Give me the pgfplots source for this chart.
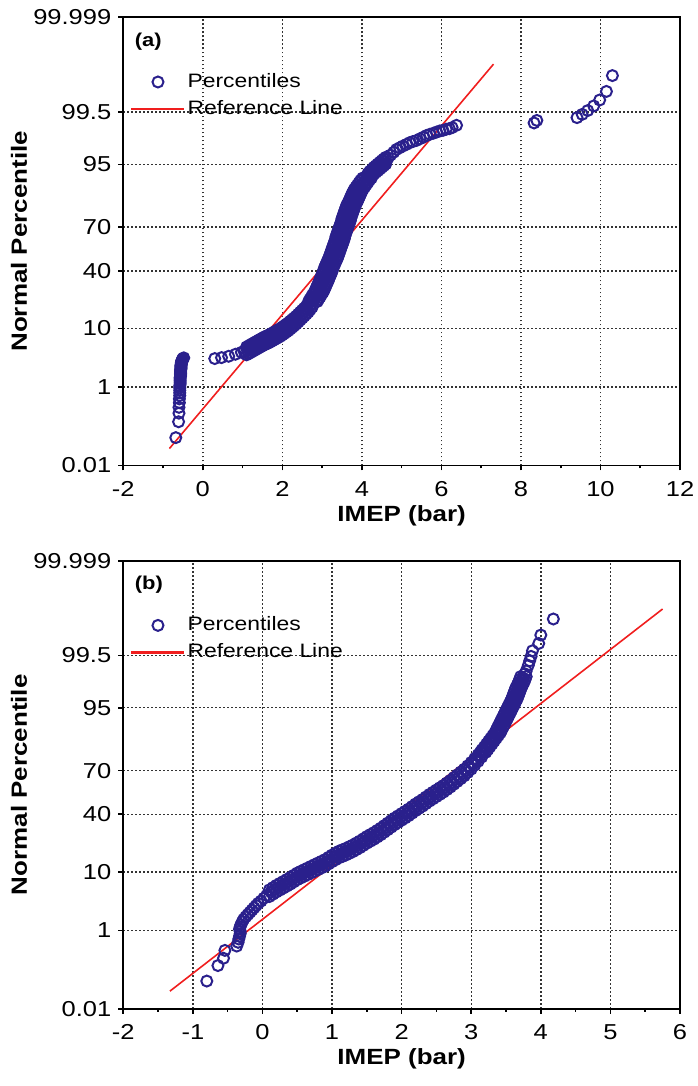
\documentclass[border=0pt]{standalone}
\usepackage{fontspec}
\setmainfont{Liberation Sans}[FakeStretch=1.18]
\usepackage{pgfplots}
\pgfplotsset{compat=1.18}
\definecolor{markblue}{RGB}{42,32,140}
\definecolor{refred}{RGB}{240,30,30}
\pgfplotsset{
  qq/.style={
    scale only axis, width=278.35pt, height=224pt,
    ymin=-3.719, ymax=4.2649,
    ytick={-3.719,-2.3263,-1.2816,-0.2533,0.5244,1.6449,2.5758,4.2649},
    yticklabels={0.01,1,10,40,70,95,99.5,99.999},
    tick align=outside, tick pos=left,
    major tick length=2.5pt, minor tick length=1.5pt,
    minor x tick num=1,
    grid=major,
    major grid style={dash pattern=on 0.9pt off 1.1pt, line width=0.7pt, black!80},
    axis line style={line width=0.8pt},
    every tick/.style={black, line width=0.8pt},
    tick label style={font=\fontsize{10.8}{12}\selectfont},
    xticklabel style={yshift=-2pt},
    /pgf/number format/assume math mode=true,
    xlabel={IMEP (bar)}, ylabel={Normal Percentile},
    every axis x label/.style={at={(axis description cs:0.5,-0.0737)}, anchor=north, font=\fontsize{11}{13}\selectfont\bfseries},
    every axis y label/.style={at={(axis description cs:-0.1874,0.5)}, rotate=90, anchor=center, font=\fontsize{11}{13}\selectfont\bfseries},
    legend style={draw=none, fill=none, at={(axis description cs:0.012,0.88)}, anchor=north west,
      font=\fontsize{9.7}{11}\selectfont, inner sep=0pt, row sep=3pt,
      nodes={inner sep=1pt}},
    legend cell align=left,
  },
  pts/.style={only marks, mark=o, mark size=2.75pt, draw=markblue, line width=1pt,
    legend image code/.code={\path[draw=none, fill=none] (-13.25pt,-3pt) rectangle (13.25pt,3pt); \draw[##1] plot coordinates {(0pt,0pt)};}},
  refl/.style={refred, line width=0.8pt, no marks,
    legend image code/.code={\path[draw=none, fill=none] (-13.25pt,-3pt) rectangle (13.25pt,3pt); \draw[##1, line width=1.1pt] (-13.25pt,0pt) -- (13.25pt,0pt);}},
}
\begin{document}
\begin{tikzpicture}
\path[use as bounding box] (-61.65pt,8.65pt) rectangle (286.85pt,-534.35pt);
\begin{axis}[qq, at={(0pt,0pt)}, anchor=north west,
  xmin=-2, xmax=12, xtick={-2,0,2,4,6,8,10,12}]
\addplot[pts] coordinates {
(-0.68,-3.226) (-0.61,-2.943) (-0.60,-2.790) (-0.60,-2.686) (-0.59,-2.603) (-0.59,-2.536) (-0.58,-2.477) (-0.58,-2.428) (-0.58,-2.383) (-0.58,-2.341) (-0.58,-2.305) (-0.57,-2.269) (-0.57,-2.237) (-0.57,-2.207) (-0.57,-2.179) (-0.57,-2.153) (-0.56,-2.128) (-0.56,-2.105) (-0.56,-2.083) (-0.56,-2.062) (-0.56,-2.041) (-0.56,-2.021) (-0.55,-2.003) (-0.55,-1.985) (-0.55,-1.967) (-0.55,-1.950) (-0.55,-1.933) (-0.54,-1.917) (-0.54,-1.902) (-0.54,-1.886) (-0.53,-1.871) (-0.53,-1.857) (-0.52,-1.843) (-0.51,-1.830) (-0.50,-1.817) (-0.48,-1.804)
(0.30,-1.817) (0.47,-1.800) (0.65,-1.776) (0.82,-1.740) (0.97,-1.705) (1.04,-1.690)
(1.10,-1.61) (1.10,-1.75) (1.15,-1.59) (1.15,-1.73) (1.20,-1.57) (1.20,-1.71) (1.25,-1.55) (1.25,-1.69) (1.30,-1.53) (1.30,-1.67) (1.35,-1.51) (1.35,-1.65) (1.40,-1.49) (1.40,-1.63) (1.45,-1.47) (1.45,-1.61) (1.50,-1.45) (1.50,-1.59) (1.55,-1.43) (1.55,-1.57) (1.60,-1.415) (1.60,-1.555) (1.65,-1.40) (1.65,-1.54) (1.70,-1.38) (1.70,-1.52) (1.75,-1.36) (1.75,-1.50) (1.80,-1.34) (1.80,-1.48) (1.85,-1.32) (1.85,-1.46) (1.90,-1.30) (1.90,-1.44) (1.95,-1.28) (1.95,-1.42) (2.00,-1.255) (2.00,-1.395) (2.05,-1.23) (2.05,-1.37) (2.10,-1.205) (2.10,-1.345) (2.15,-1.18) (2.15,-1.32) (2.20,-1.15) (2.20,-1.29) (2.25,-1.12) (2.25,-1.26) (2.30,-1.09) (2.30,-1.23) (2.35,-1.06) (2.35,-1.20) (2.40,-1.025) (2.40,-1.165) (2.45,-0.99) (2.45,-1.13) (2.50,-0.955) (2.50,-1.095) (2.55,-0.92) (2.55,-1.06) (2.60,-0.885) (2.60,-1.025) (2.65,-0.85) (2.65,-0.99) (2.70,-0.805) (2.70,-0.945) (2.75,-0.76) (2.75,-0.90)
(1.125,-1.67) (1.175,-1.65) (1.225,-1.63) (1.275,-1.61) (1.325,-1.59) (1.375,-1.57) (1.425,-1.55) (1.475,-1.53) (1.525,-1.51) (1.575,-1.4925) (1.625,-1.4775) (1.675,-1.46) (1.725,-1.44) (1.775,-1.42) (1.825,-1.40) (1.875,-1.38) (1.925,-1.36) (1.975,-1.3375) (2.025,-1.3125) (2.075,-1.2875) (2.125,-1.2625) (2.175,-1.235) (2.225,-1.205) (2.275,-1.175) (2.325,-1.145) (2.375,-1.1125) (2.425,-1.0775) (2.475,-1.0425) (2.525,-1.0075) (2.575,-0.9725) (2.625,-0.9375) (2.675,-0.8975) (2.725,-0.8525)
(2.66,-0.80) (2.88,-0.80) (2.69,-0.76) (2.91,-0.76) (2.73,-0.72) (2.95,-0.72) (2.76,-0.68) (2.98,-0.68) (2.80,-0.64) (3.02,-0.64) (2.83,-0.60) (3.05,-0.60) (2.85,-0.56) (3.07,-0.56) (2.88,-0.52) (3.10,-0.52) (2.90,-0.48) (3.12,-0.48) (2.93,-0.44) (3.15,-0.44) (2.95,-0.40) (3.17,-0.40) (2.97,-0.36) (3.19,-0.36) (3.00,-0.32) (3.22,-0.32) (3.02,-0.28) (3.24,-0.28) (3.04,-0.24) (3.26,-0.24) (3.06,-0.20) (3.28,-0.20) (3.08,-0.16) (3.30,-0.16) (3.11,-0.12) (3.33,-0.12) (3.13,-0.08) (3.35,-0.08) (3.16,-0.04) (3.38,-0.04) (3.18,0.00) (3.40,0.00) (3.20,0.04) (3.42,0.04) (3.22,0.08) (3.44,0.08) (3.24,0.12) (3.46,0.12) (3.26,0.16) (3.48,0.16) (3.28,0.20) (3.50,0.20) (3.30,0.24) (3.52,0.24) (3.32,0.28) (3.54,0.28) (3.34,0.32) (3.56,0.32) (3.35,0.36) (3.57,0.36) (3.37,0.40) (3.59,0.40) (3.39,0.44) (3.61,0.44) (3.41,0.48) (3.63,0.48) (3.43,0.52) (3.65,0.52) (3.45,0.56) (3.67,0.56) (3.47,0.60) (3.69,0.60) (3.49,0.64) (3.71,0.64) (3.50,0.68) (3.72,0.68) (3.52,0.72) (3.74,0.72) (3.54,0.76) (3.76,0.76) (3.56,0.80) (3.78,0.80) (3.58,0.84) (3.80,0.84) (3.60,0.88) (3.82,0.88) (3.62,0.92) (3.84,0.92) (3.65,0.96) (3.87,0.96) (3.68,1.00) (3.90,1.00) (3.70,1.04) (3.92,1.04) (3.73,1.08) (3.95,1.08) (3.75,1.12) (3.97,1.12) (3.78,1.16) (4.00,1.16) (3.81,1.20) (4.03,1.20) (3.85,1.24) (4.07,1.24) (3.89,1.28) (4.11,1.28) (3.93,1.32) (4.15,1.32) (3.97,1.36) (4.19,1.36) (4.02,1.40) (4.24,1.40)
(2.785,-0.78) (2.82,-0.74) (2.855,-0.70) (2.89,-0.66) (2.925,-0.62) (2.95,-0.58) (2.975,-0.54) (3.00,-0.50) (3.025,-0.46) (3.05,-0.42) (3.07,-0.38) (3.095,-0.34) (3.12,-0.30) (3.14,-0.26) (3.16,-0.22) (3.18,-0.18) (3.205,-0.14) (3.23,-0.10) (3.255,-0.06) (3.28,-0.02) (3.30,0.02) (3.32,0.06) (3.34,0.10) (3.36,0.14) (3.38,0.18) (3.40,0.22) (3.42,0.26) (3.44,0.30) (3.455,0.34) (3.47,0.38) (3.49,0.42) (3.51,0.46) (3.53,0.50) (3.55,0.54) (3.57,0.58) (3.59,0.62) (3.605,0.66) (3.62,0.70) (3.64,0.74) (3.66,0.78) (3.68,0.82) (3.70,0.86) (3.72,0.90) (3.745,0.94) (3.775,0.98) (3.80,1.02) (3.825,1.06) (3.85,1.10) (3.875,1.14) (3.905,1.18) (3.94,1.22) (3.98,1.26) (4.02,1.30) (4.06,1.34) (4.105,1.38)
(4.15,1.48) (4.15,1.36) (4.20,1.52) (4.20,1.40) (4.25,1.55) (4.25,1.43) (4.30,1.59) (4.30,1.47) (4.35,1.62) (4.35,1.50) (4.40,1.65) (4.40,1.53) (4.45,1.68) (4.45,1.56) (4.50,1.71) (4.50,1.59) (4.55,1.74) (4.55,1.62) (4.60,1.77) (4.60,1.65)
(4.175,1.44) (4.225,1.475) (4.275,1.51) (4.325,1.545) (4.375,1.575) (4.425,1.605) (4.475,1.635) (4.525,1.665) (4.575,1.695)
(4.66,1.76) (4.72,1.81) (4.80,1.86) (4.87,1.91) (4.95,1.94) (5.03,1.97) (5.12,2.00) (5.20,2.03) (5.28,2.05) (5.37,2.07) (5.46,2.10) (5.55,2.13) (5.63,2.16) (5.71,2.18) (5.80,2.20) (5.88,2.22) (5.96,2.24) (6.04,2.25) (6.12,2.27) (6.20,2.28) (6.27,2.30) (6.38,2.34)
(8.33,2.382) (8.40,2.427) (9.41,2.477) (9.54,2.535) (9.68,2.603) (9.83,2.685) (9.98,2.791) (10.15,2.944) (10.30,3.226)
};
\addlegendentry{Percentiles}
\addplot[refl] coordinates {(-0.84,-3.42) (7.31,3.43)};
\addlegendentry{Reference Line}
\node[anchor=west, font=\fontsize{9.3}{10}\selectfont\bfseries] at (rel axis cs:0.008,0.946) {(a)};
\end{axis}
\begin{axis}[qq, at={(0pt,-271.7pt)}, anchor=north west,
  xmin=-2, xmax=6, xtick={-2,-1,0,1,2,3,4,5,6}]
\addplot[pts] coordinates {
(-0.80,-3.226) (-0.64,-2.950) (-0.56,-2.820) (-0.54,-2.680) (-0.37,-2.603) (-0.35,-2.536) (-0.34,-2.477) (-0.33,-2.428) (-0.32,-2.383) (-0.32,-2.341) (-0.33,-2.300) (-0.32,-2.260) (-0.31,-2.220) (-0.29,-2.170) (-0.27,-2.125) (-0.24,-2.080) (-0.21,-2.040) (-0.18,-2.000) (-0.15,-1.960) (-0.12,-1.920) (-0.09,-1.880) (-0.06,-1.840) (-0.02,-1.800) (0.02,-1.750) (0.06,-1.700)
(0.10,-1.60) (0.10,-1.72) (0.15,-1.56) (0.15,-1.68) (0.20,-1.52) (0.20,-1.64) (0.25,-1.485) (0.25,-1.605) (0.30,-1.45) (0.30,-1.57) (0.35,-1.415) (0.35,-1.535) (0.40,-1.38) (0.40,-1.50) (0.45,-1.34) (0.45,-1.46) (0.50,-1.30) (0.50,-1.42) (0.55,-1.27) (0.55,-1.39) (0.60,-1.24) (0.60,-1.36) (0.65,-1.21) (0.65,-1.33) (0.70,-1.18) (0.70,-1.30) (0.75,-1.15) (0.75,-1.27) (0.80,-1.12) (0.80,-1.24) (0.85,-1.09) (0.85,-1.21) (0.90,-1.06) (0.90,-1.18) (0.95,-1.02) (0.95,-1.14) (1.00,-0.98) (1.00,-1.10) (1.05,-0.945) (1.05,-1.065) (1.10,-0.91) (1.10,-1.03) (1.15,-0.885) (1.15,-1.005) (1.20,-0.86) (1.20,-0.98) (1.25,-0.83) (1.25,-0.95) (1.30,-0.80) (1.30,-0.92) (1.35,-0.765) (1.35,-0.885) (1.40,-0.73) (1.40,-0.85) (1.45,-0.69) (1.45,-0.81) (1.50,-0.65) (1.50,-0.77) (1.55,-0.615) (1.55,-0.735) (1.60,-0.58) (1.60,-0.70) (1.65,-0.54) (1.65,-0.66) (1.70,-0.50) (1.70,-0.62) (1.75,-0.455) (1.75,-0.575) (1.80,-0.41) (1.80,-0.53) (1.85,-0.365) (1.85,-0.485) (1.90,-0.32) (1.90,-0.44) (1.95,-0.28) (1.95,-0.40) (2.00,-0.24) (2.00,-0.36) (2.05,-0.20) (2.05,-0.32) (2.10,-0.16) (2.10,-0.28) (2.15,-0.115) (2.15,-0.235) (2.20,-0.07) (2.20,-0.19) (2.25,-0.03) (2.25,-0.15) (2.30,0.01) (2.30,-0.11) (2.35,0.055) (2.35,-0.065) (2.40,0.10) (2.40,-0.02) (2.45,0.14) (2.45,0.02) (2.50,0.18) (2.50,0.06) (2.55,0.22) (2.55,0.10) (2.60,0.26) (2.60,0.14) (2.65,0.305) (2.65,0.185) (2.70,0.35) (2.70,0.23) (2.75,0.40) (2.75,0.28) (2.80,0.45) (2.80,0.33) (2.85,0.50) (2.85,0.38) (2.90,0.55) (2.90,0.43) (2.95,0.61) (2.95,0.49) (3.00,0.67) (3.00,0.55) (3.05,0.74) (3.05,0.62) (3.10,0.81) (3.10,0.69) (3.15,0.885) (3.15,0.765)
(0.125,-1.64) (0.175,-1.60) (0.225,-1.5625) (0.275,-1.5275) (0.325,-1.4925) (0.375,-1.4575) (0.425,-1.42) (0.475,-1.38) (0.525,-1.345) (0.575,-1.315) (0.625,-1.285) (0.675,-1.255) (0.725,-1.225) (0.775,-1.195) (0.825,-1.165) (0.875,-1.135) (0.925,-1.10) (0.975,-1.06) (1.025,-1.0225) (1.075,-0.9875) (1.125,-0.9575) (1.175,-0.9325) (1.225,-0.905) (1.275,-0.875) (1.325,-0.8425) (1.375,-0.8075) (1.425,-0.77) (1.475,-0.73) (1.525,-0.6925) (1.575,-0.6575) (1.625,-0.62) (1.675,-0.58) (1.725,-0.5375) (1.775,-0.4925) (1.825,-0.4475) (1.875,-0.4025) (1.925,-0.36) (1.975,-0.32) (2.025,-0.28) (2.075,-0.24) (2.125,-0.1975) (2.175,-0.1525) (2.225,-0.11) (2.275,-0.07) (2.325,-0.0275) (2.375,0.0175) (2.425,0.06) (2.475,0.10) (2.525,0.14) (2.575,0.18) (2.625,0.2225) (2.675,0.2675) (2.725,0.315) (2.775,0.365) (2.825,0.415) (2.875,0.465) (2.925,0.52) (2.975,0.58) (3.025,0.645) (3.075,0.715) (3.125,0.7875)
(3.13,0.85) (3.21,0.85) (3.16,0.90) (3.24,0.90) (3.19,0.95) (3.27,0.95) (3.22,1.00) (3.30,1.00) (3.25,1.05) (3.33,1.05) (3.28,1.10) (3.36,1.10) (3.31,1.15) (3.39,1.15) (3.34,1.20) (3.42,1.20) (3.36,1.25) (3.44,1.25) (3.38,1.30) (3.46,1.30) (3.40,1.35) (3.48,1.35) (3.42,1.40) (3.50,1.40) (3.44,1.45) (3.52,1.45) (3.46,1.50) (3.54,1.50) (3.48,1.55) (3.56,1.55) (3.50,1.60) (3.58,1.60) (3.52,1.65) (3.60,1.65) (3.54,1.70) (3.62,1.70) (3.56,1.75) (3.64,1.75) (3.58,1.80) (3.66,1.80) (3.595,1.85) (3.675,1.85) (3.61,1.90) (3.69,1.90) (3.625,1.95) (3.705,1.95) (3.64,2.00) (3.72,2.00) (3.66,2.05) (3.74,2.05) (3.68,2.10) (3.76,2.10) (3.695,2.15) (3.775,2.15) (3.71,2.20) (3.79,2.20) (3.77,2.25) (3.79,2.30)
(3.185,0.875) (3.215,0.925) (3.245,0.975) (3.275,1.025) (3.305,1.075) (3.335,1.125) (3.365,1.175) (3.39,1.225) (3.41,1.275) (3.43,1.325) (3.45,1.375) (3.47,1.425) (3.49,1.475) (3.51,1.525) (3.53,1.575) (3.55,1.625) (3.57,1.675) (3.59,1.725) (3.61,1.775) (3.6275,1.825) (3.6425,1.875) (3.6575,1.925) (3.6725,1.975) (3.69,2.025) (3.71,2.075) (3.7275,2.125) (3.7425,2.175)
(3.82,2.40) (3.84,2.48) (3.86,2.56) (3.88,2.66) (3.97,2.79) (4.00,2.94) (4.18,3.226)
};
\addlegendentry{Percentiles}
\addplot[refl] coordinates {(-1.33,-3.406) (5.75,3.404)};
\addlegendentry{Reference Line}
\node[anchor=west, font=\fontsize{9.3}{10}\selectfont\bfseries] at (rel axis cs:0.008,0.946) {(b)};
\end{axis}
\end{tikzpicture}
\end{document}
